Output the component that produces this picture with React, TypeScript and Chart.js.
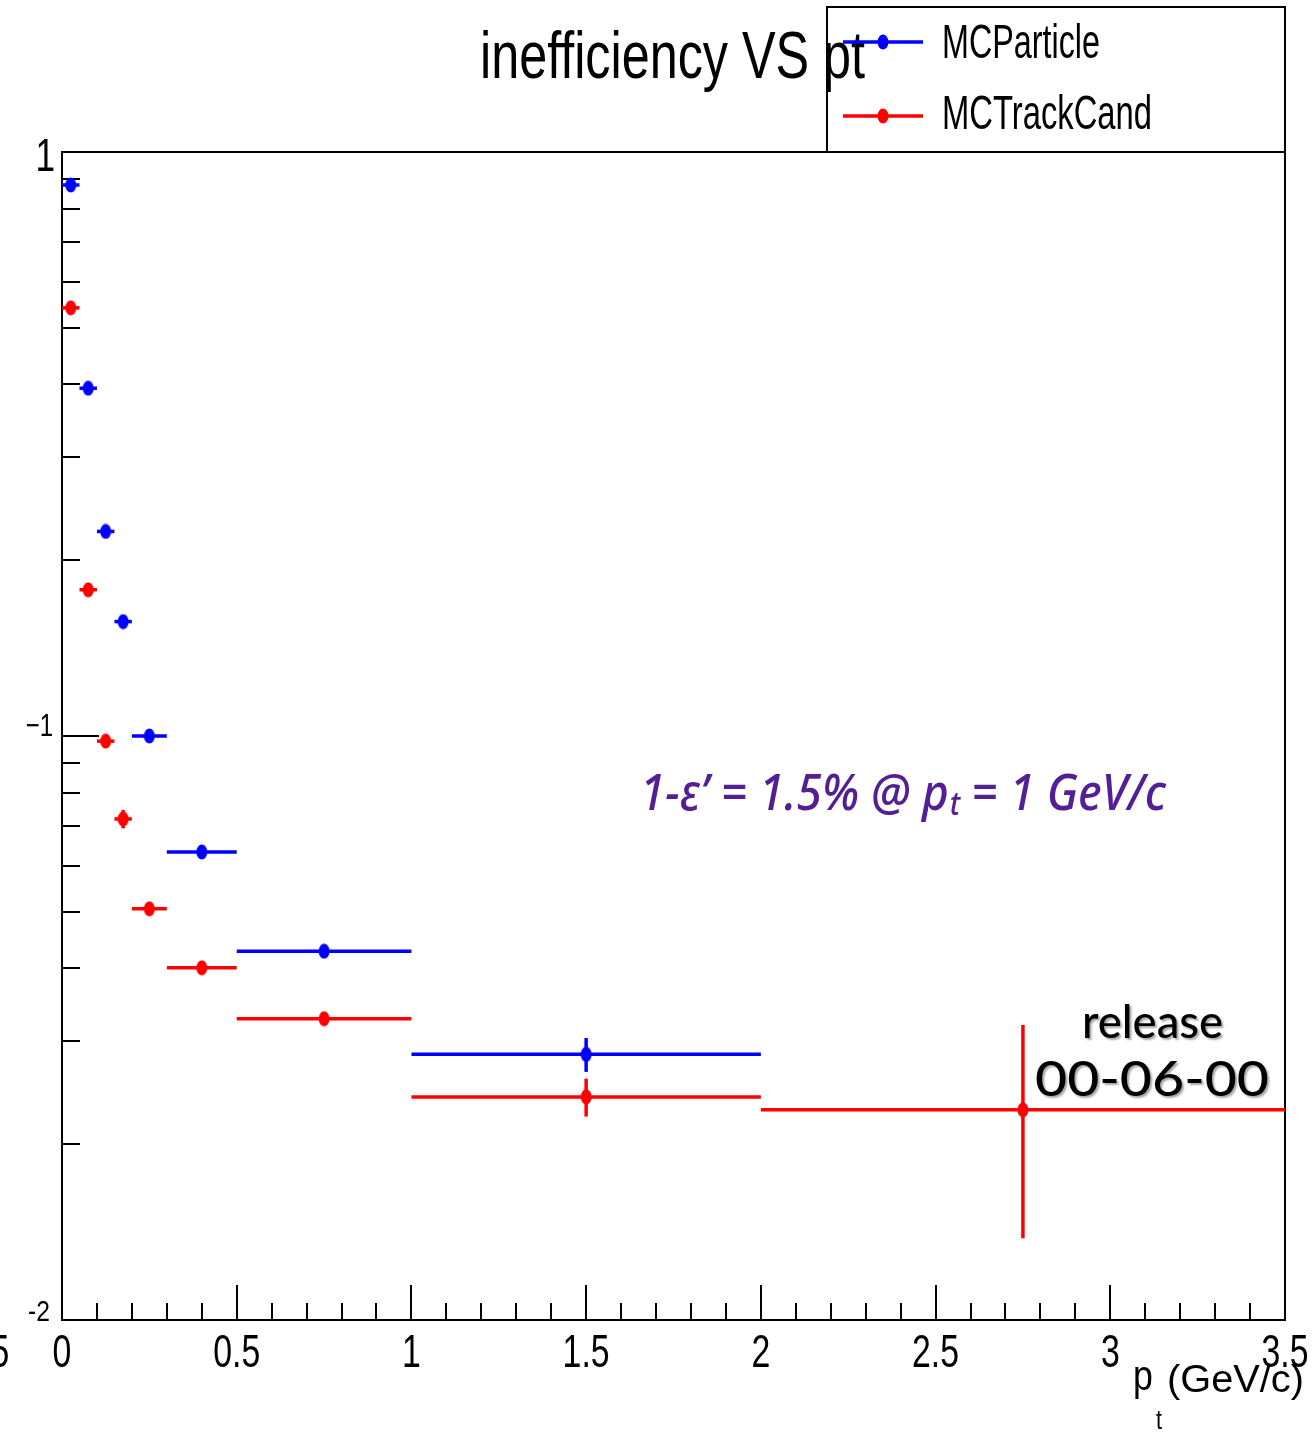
import React, { useEffect, useRef } from "react";
import { Chart, registerables } from "chart.js";

Chart.register(...registerables);

// ---- data ----
const binLow = [0, 0.05, 0.1, 0.15, 0.2, 0.3, 0.5, 1, 2];
const binHigh = [0.05, 0.1, 0.15, 0.2, 0.3, 0.5, 1, 2, 3.5];
const binCenter = [0.025, 0.075, 0.125, 0.175, 0.25, 0.4, 0.75, 1.5, 2.75];

const mcParticle = [0.878, 0.394, 0.224, 0.157, 0.1, 0.0633, 0.0428, 0.0285, null];
const mcParticleErr = [0.01, 0.005, 0.003, 0.002, 0.0015, 0.001, 0.0008, 0.0019, null];

const mcTrackCand = [0.541, 0.178, 0.098, 0.0721, 0.0506, 0.0401, 0.0328, 0.0241, 0.0229];
const mcTrackCandErr = [0.008, 0.003, 0.002, 0.0026, 0.001, 0.0008, 0.0006, 0.0018, 0.0091];

const xTickLabels = ["0", "0.5", "1", "1.5", "2", "2.5", "3", "3.5"];
const xTickValues = [0, 0.5, 1, 1.5, 2, 2.5, 3, 3.5];
const yTickLabels = ["1", "\u22121", "-2"];
const yTickValues = [1, 0.1, 0.01];

const seriesNames = ["MCParticle", "MCTrackCand"];
const seriesColors = ["#0000ff", "#ff0000"];

const titleText = "inefficiency VS pt";

function makeMarker(color: string) {
  const c = document.createElement("canvas");
  c.width = 12;
  c.height = 16;
  const g = c.getContext("2d")!;
  g.fillStyle = color;
  g.beginPath();
  g.ellipse(6, 8, 5.5, 7.5, 0, 0, Math.PI * 2);
  g.fill();
  return c;
}

function drawScaled(
  ctx: CanvasRenderingContext2D,
  text: string,
  x: number,
  y: number,
  font: string,
  sx: number,
  align: "left" | "center" | "right"
) {
  ctx.save();
  ctx.font = font;
  const w = ctx.measureText(text).width * sx;
  const left = align === "left" ? x : align === "center" ? x - w / 2 : x - w;
  ctx.translate(left, y);
  ctx.scale(sx, 1);
  ctx.textAlign = "left";
  ctx.textBaseline = "alphabetic";
  ctx.fillText(text, 0, 0);
  ctx.restore();
  return w;
}

function drawFit(
  ctx: CanvasRenderingContext2D,
  text: string,
  left: number,
  y: number,
  font: string,
  width: number
) {
  ctx.save();
  ctx.font = font;
  const w = ctx.measureText(text).width;
  ctx.translate(left, y);
  ctx.scale(width / w, 1);
  ctx.textAlign = "left";
  ctx.textBaseline = "alphabetic";
  ctx.fillText(text, 0, 0);
  ctx.restore();
}

export default function App() {
  const ref = useRef<HTMLCanvasElement | null>(null);

  useEffect(() => {
    const canvas = ref.current;
    if (!canvas) return;
    const markers = seriesColors.map((c) => makeMarker(c));
    const values = [mcParticle, mcTrackCand];
    const errs = [mcParticleErr, mcTrackCandErr];

    const datasets = values.map((vals, si) => ({
      label: seriesNames[si],
      data: binCenter
        .map((x, i) => ({ x, y: vals[i] }))
        .filter((p) => p.y !== null && p.y !== undefined),
      pointStyle: markers[si],
      pointRadius: 6,
      pointHoverRadius: 6,
      showLine: false,
      borderColor: seriesColors[si],
      backgroundColor: seriesColors[si],
    }));

    const rootPlugin = {
      id: "rootStyle",
      beforeDraw(chart: any) {
        const ctx = chart.ctx as CanvasRenderingContext2D;
        ctx.save();
        ctx.fillStyle = "#ffffff";
        ctx.fillRect(0, 0, chart.width, chart.height);
        ctx.restore();
      },
      beforeDatasetsDraw(chart: any) {
        const ctx = chart.ctx as CanvasRenderingContext2D;
        const xs = chart.scales.x;
        const ys = chart.scales.y;
        const a = chart.chartArea;
        ctx.save();
        // frame
        ctx.strokeStyle = "#000";
        ctx.lineWidth = 2;
        ctx.strokeRect(a.left, a.top, a.right - a.left, a.bottom - a.top);
        // x ticks
        ctx.lineWidth = 2;
        for (let k = 0; k <= 35; k++) {
          const v = k / 10;
          const px = Math.round(xs.getPixelForValue(v));
          const major = k % 5 === 0;
          ctx.beginPath();
          ctx.moveTo(px, a.bottom);
          ctx.lineTo(px, a.bottom - (major ? 35 : 17));
          ctx.stroke();
        }
        // y ticks
        const decades = [0.01, 0.1];
        for (const d of decades) {
          for (let m = 1; m <= 9; m++) {
            const v = d * m;
            const py = Math.round(ys.getPixelForValue(v));
            const major = m === 1;
            ctx.beginPath();
            ctx.moveTo(a.left, py);
            ctx.lineTo(a.left + (major ? 37 : 18), py);
            ctx.stroke();
          }
        }
        // error bars
        ctx.lineWidth = 3.5;
        values.forEach((vals, si) => {
          ctx.strokeStyle = seriesColors[si];
          vals.forEach((v, i) => {
            if (v === null || v === undefined) return;
            const py = ys.getPixelForValue(v);
            const x0 = xs.getPixelForValue(binLow[i]);
            const x1 = xs.getPixelForValue(binHigh[i]);
            const xc = xs.getPixelForValue(binCenter[i]);
            ctx.beginPath();
            ctx.moveTo(x0, py);
            ctx.lineTo(x1, py);
            ctx.stroke();
            const e = errs[si][i] as number;
            if (e) {
              const yTop = ys.getPixelForValue(v + e);
              const yBot = ys.getPixelForValue(Math.max(v - e, 1e-6));
              ctx.beginPath();
              ctx.moveTo(xc, yTop);
              ctx.lineTo(xc, yBot);
              ctx.stroke();
            }
          });
        });
        ctx.restore();
      },
      afterDraw(chart: any) {
        const ctx = chart.ctx as CanvasRenderingContext2D;
        const xs = chart.scales.x;
        const ys = chart.scales.y;
        const a = chart.chartArea;
        ctx.save();
        ctx.fillStyle = "#000";
        const helv = "'Liberation Sans', Arial, sans-serif";

        // x tick labels
        xTickLabels.forEach((t, i) => {
          drawScaled(ctx, t, xs.getPixelForValue(xTickValues[i]), 1367, `47px ${helv}`, 0.72, "center");
        });
        // cut-off label at far left
        drawScaled(ctx, "5", 0, 1367, `47px ${helv}`, 0.72, "center");

        // y tick labels
        const ySizes = [47, 32, 29];
        const yScale = [0.75, 0.75, 0.85];
        const yRight = [55, 53, 50];
        const yOff = [19, 0, 1];
        yTickLabels.forEach((t, i) => {
          drawScaled(
            ctx,
            t,
            yRight[i],
            ys.getPixelForValue(yTickValues[i]) + yOff[i],
            `${ySizes[i]}px ${helv}`,
            yScale[i],
            "right"
          );
        });

        // axis title
        drawScaled(ctx, "p", 1133, 1390, `42px ${helv}`, 0.85, "left");
        drawScaled(ctx, "t", 1156, 1429, `27px ${helv}`, 0.8, "left");
        drawFit(ctx, "(GeV/c)", 1167, 1392, `39px ${helv}`, 137);

        // title
        drawFit(ctx, titleText, 480, 78, `66px ${helv}`, 385);

        // legend box
        ctx.strokeStyle = "#000";
        ctx.lineWidth = 2;
        ctx.strokeRect(827, 7, a.right - 827, a.top - 7);
        const legY = [42, 116];
        const legBase = [58, 129];
        const legW = [158, 210];
        seriesNames.forEach((name, si) => {
          ctx.strokeStyle = seriesColors[si];
          ctx.lineWidth = 3.5;
          ctx.beginPath();
          ctx.moveTo(843, legY[si]);
          ctx.lineTo(923, legY[si]);
          ctx.stroke();
          ctx.drawImage(markers[si], 883 - 6, legY[si] - 8);
          ctx.fillStyle = "#000";
          drawFit(ctx, name, 942, legBase[si], `48px ${helv}`, legW[si]);
        });

        // annotation
        ctx.fillStyle = "#531f94";
        const f1 = "italic 500 50px 'Noto Sans', 'Open Sans', sans-serif";
        const f2 = "italic 500 32px 'Noto Sans', 'Open Sans', sans-serif";
        const p1 = "1-\u03b5\u2019 = 1.5% @ p";
        const p2 = "t";
        const p3 = " = 1 GeV/c";
        ctx.font = f1;
        const w1 = ctx.measureText(p1).width;
        const w3 = ctx.measureText(p3).width;
        ctx.font = f2;
        const w2 = ctx.measureText(p2).width;
        const s = (1166 - 640) / (w1 + w2 + w3);
        ctx.save();
        ctx.translate(640, 0);
        ctx.scale(s, 1);
        ctx.textBaseline = "alphabetic";
        ctx.font = f1;
        ctx.fillText(p1, 0, 810);
        ctx.font = f2;
        ctx.fillText(p2, w1 + 1, 815);
        ctx.font = f1;
        ctx.fillText(p3, w1 + w2, 810);
        ctx.restore();

        // release text
        ctx.save();
        ctx.fillStyle = "#000";
        ctx.shadowColor = "rgba(0,0,0,0.35)";
        ctx.shadowOffsetX = 2;
        ctx.shadowOffsetY = 2;
        ctx.shadowBlur = 2;
        drawFit(ctx, "release", 1082, 1038, "500 47px Lato, 'Open Sans', sans-serif", 141);
        drawFit(ctx, "00-06-00", 1035, 1096, "500 48px Lato, 'Open Sans', sans-serif", 234);
        ctx.restore();

        ctx.restore();
      },
    };

    const chart = new Chart(canvas, {
      type: "scatter",
      data: { datasets: datasets as any },
      options: {
        responsive: false,
        animation: false,
        devicePixelRatio: 1,
        layout: { padding: { left: 62, right: 28, top: 152, bottom: 115 } },
        plugins: {
          legend: { display: false },
          tooltip: { enabled: false },
          title: { display: false },
        },
        events: [],
        scales: {
          x: { type: "linear", min: 0, max: 3.5, display: false },
          y: { type: "logarithmic", min: 0.01, max: 1, display: false },
        },
      },
      plugins: [rootPlugin],
    });
    return () => chart.destroy();
  }, []);

  return (
    <canvas
      ref={ref}
      width={1313}
      height={1435}
      style={{ position: "absolute", left: 0, top: 0, display: "block", width: 1313, height: 1435 }}
    />
  );
}
